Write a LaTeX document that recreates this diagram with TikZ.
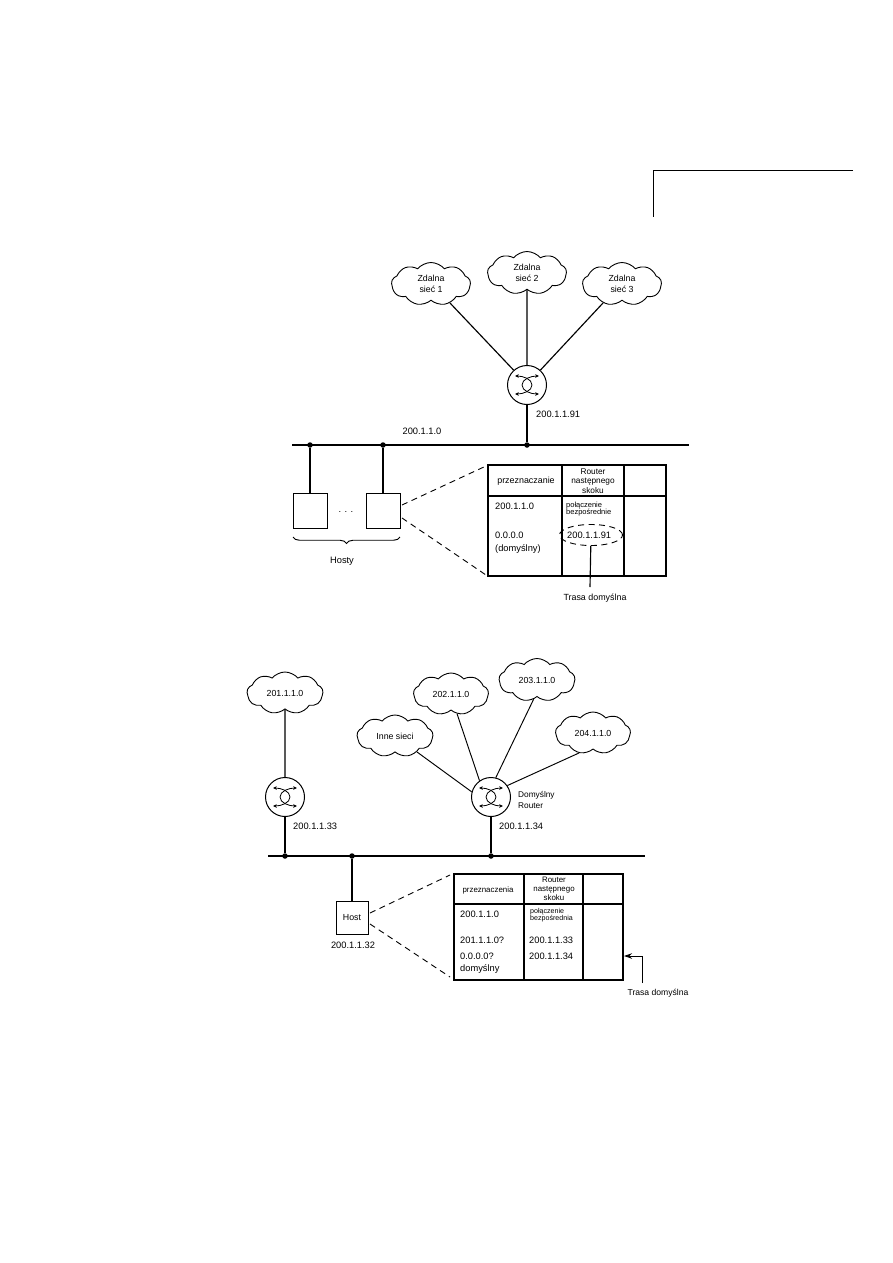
\documentclass[tikz,border=0pt]{standalone}
\usepackage{fontspec}
\setmainfont{Liberation Sans}
\usetikzlibrary{shapes.symbols,shapes.geometric,decorations.pathreplacing,arrows.meta}
\tikzset{
  x=1pt,y=-1pt,
  line/.style={line width=1.15pt,black},
  thinline/.style={line width=0.95pt,black},
  dashline/.style={line width=0.9pt,black,dash pattern=on 6pt off 4.5pt},
  netcloud/.style={cloud,cloud puffs=9,cloud puff arc=100,draw,line width=0.9pt,aspect=1.8,minimum width=79pt,minimum height=43pt,inner sep=0pt,align=center,font=\fontsize{8.8}{11}\selectfont},
  rtr/.style={circle,draw,line width=1pt,minimum size=39pt,inner sep=0pt},
  dot/.style={circle,fill=black,inner sep=0pt,minimum size=5.5pt},
  hostbox/.style={draw,line width=1pt,inner sep=0pt,minimum width=34pt,minimum height=35pt},
  lab/.style={inner sep=0pt,font=\fontsize{9.3}{10}\selectfont},
  llab/.style={lab,anchor=west},
  hdr/.style={inner sep=0pt,align=center,font=\fontsize{8.3}{9.3}\selectfont},
  tiny/.style={inner sep=0pt,align=left,anchor=west,font=\fontsize{7.5}{7.3}\selectfont},
  tab/.style={line width=1.05pt,black},
}
\newcommand{\rtricon}[1]{%
  \begin{scope}[shift={(#1)},line width=0.8pt,{Stealth[length=3.8pt,width=3.5pt]}-{Stealth[length=3.8pt,width=3.5pt]}]
    \draw (-12,-9) .. controls (-4,-9) and (5,-6) .. (5,0) .. controls (5,6) and (-4,9) .. (-12,9);
    \draw (12,-9) .. controls (4,-9) and (-5,-6) .. (-5,0) .. controls (-5,6) and (4,9) .. (12,9);
  \end{scope}}
\begin{document}
\begin{tikzpicture}
\useasboundingbox (0,0) rectangle (893,1263);
\fill[white] (0,0) rectangle (893,1263);
% corner mark
\coordinate (ma) at (853,170); \coordinate (mb) at (653,170); \coordinate (mc) at (653,217);
\draw[line width=1pt] (ma) -- (mb) -- (mc);

% ---- upper diagram
\node[netcloud] (z1) at (431,284) {Zdalna\\sieć 1};
\node[netcloud] (z2) at (527,273) {Zdalna\\sieć 2};
\node[netcloud] (z3) at (622,284) {Zdalna\\sieć 3};
\node[rtr] (r1) at (527,385) {};
\rtricon{r1}
\draw[line] (z1.-45) -- (r1.132);
\draw[line] (z2.south) -- (r1.north);
\draw[line] (z3.-135) -- (r1.48);
\coordinate (b1w) at (292,445); \coordinate (b1e) at (689,445);
\draw[line] (b1w) -- (b1e);
\node[dot] (d1) at (310,445) {};
\node[dot] (d2) at (383,445) {};
\node[dot] (d3) at (527,445) {};
\draw[line] (r1) -- (d3);
\node[hostbox] (h1) at (310,510.5) {};
\node[hostbox] (h2) at (383,510.5) {};
\draw[line] (d1) -- (h1);
\draw[line] (d2) -- (h2);
\node[lab] (dots) at (346,512) {. . .};
\coordinate (bra) at (293,537); \coordinate (brb) at (400,537);
\draw[thinline,decorate,decoration={brace,amplitude=6.5pt,mirror}] (bra) -- (brb);
\node[lab] (hosty) at (342,561) {Hosty};
\node[lab] (net1) at (422,431) {200.1.1.0};
\node[llab] (ip91) at (536,414) {200.1.1.91};
% table 1
\draw[tab] (488,465) rectangle (666,576);
\draw[tab] (488,496) -- (666,496);
\draw[tab] (562,465) -- (562,576);
\draw[tab] (624,465) -- (624,576);
\coordinate (t1a) at (486,466); \coordinate (t1b) at (486,575);
\coordinate (h2a) at (402,505); \coordinate (h2b) at (402,518);
\draw[dashline] (h2a) -- (t1a);
\draw[dashline] (h2b) -- (t1b);
\node[lab,font=\fontsize{8.9}{10}\selectfont] (t1h) at (526,481) {przeznaczanie};
\node[hdr] (t1r) at (593,481) {Router\\następnego\\skoku};
\node[llab] (t1n) at (495,506) {200.1.1.0};
\node[tiny] (t1p) at (566,509) {połączenie\\bezpośrednie};
\node[llab] (t1d) at (495,535) {0.0.0.0};
\node[llab] (t1e) at (495,549) {(domyślny)};
\node[llab] (t1i) at (567,535) {200.1.1.91};
\node[draw,ellipse,dashline,minimum width=63pt,minimum height=21pt,inner sep=0pt] (el) at (591,535) {};
\coordinate (tr1) at (590,587);
\draw[line] (el) -- (tr1);
\node[lab,font=\fontsize{8.9}{10}\selectfont] (trasa1) at (595,598) {Trasa domyślna};

% ---- lower diagram
\node[netcloud,minimum width=76pt,minimum height=42pt] (c201) at (285,693) {201.1.1.0};
\node[netcloud,minimum width=75pt,minimum height=42pt] (c202) at (451,694) {202.1.1.0};
\node[netcloud,minimum width=76pt,minimum height=43pt] (c203) at (537,680) {203.1.1.0};
\node[netcloud,minimum width=75pt,minimum height=42pt] (c204) at (593,733) {204.1.1.0};
\node[netcloud,minimum width=76pt,minimum height=42pt] (cin) at (395,736) {Inne sieci};
\node[rtr] (r2) at (285,797) {};
\node[rtr] (r3) at (491,797) {};
\rtricon{r2}
\rtricon{r3}
\draw[line] (c201.south) -- (r2.north);
\draw[thinline] (cin.-36) -- (r3.165);
\draw[thinline] (c202.-73) -- (r3.125);
\draw[thinline] (c203.-100) -- (r3.76);
\draw[thinline] (c204.-125) -- (r3.35);
\coordinate (b2w) at (268,856); \coordinate (b2e) at (645,856);
\draw[line] (b2w) -- (b2e);
\node[dot] (e1) at (285,856) {};
\node[dot] (e2) at (352,856) {};
\node[dot] (e3) at (491,856) {};
\draw[line] (r2) -- (e1);
\draw[line] (r3) -- (e3);
\node[hostbox,minimum width=32pt,minimum height=33pt,font=\fontsize{8.8}{10}\selectfont] (host) at (352,917.5) {Host};
\draw[line] (e2) -- (host);
\node[lab] (ip32) at (353,945) {200.1.1.32};
\node[llab] (ip33) at (293,826) {200.1.1.33};
\node[llab] (ip34) at (499,826) {200.1.1.34};
\node[llab,align=left,font=\fontsize{8.3}{11}\selectfont] (dr) at (518,799.5) {Domyślny\\Router};
% table 2
\draw[tab] (454,874) rectangle (623,980);
\draw[tab] (454,904) -- (623,904);
\draw[tab] (524,874) -- (524,980);
\draw[tab] (583,874) -- (583,980);
\coordinate (t2a) at (450,875); \coordinate (t2b) at (450,977);
\coordinate (ha) at (370,913); \coordinate (hb) at (370,924);
\draw[dashline] (ha) -- (t2a);
\draw[dashline] (hb) -- (t2b);
\node[lab,font=\fontsize{7.9}{9}\selectfont] (t2h) at (488,890) {przeznaczenia};
\node[hdr,font=\fontsize{7.9}{9}\selectfont] (t2r) at (554,889) {Router\\następnego\\skoku};
\node[llab] (t2n) at (460,914) {200.1.1.0};
\node[tiny,font=\fontsize{7.1}{7.3}\selectfont] (t2p) at (530,915) {połączenie\\bezpośrednia};
\node[llab] (t2a1) at (460,940) {201.1.1.0?};
\node[llab] (t2a2) at (529,940) {200.1.1.33};
\node[llab] (t2b1) at (460,956) {0.0.0.0?};
\node[llab] (t2b2) at (529,956) {200.1.1.34};
\node[llab] (t2c) at (460,969) {domyślny};
\coordinate (ar0) at (642,983); \coordinate (ar1) at (642,956); \coordinate (ar2) at (624,956);
\draw[thinline,-{Stealth[length=8pt,width=5.5pt]}] (ar0) -- (ar1) -- (ar2);
\node[lab,font=\fontsize{8.6}{10}\selectfont] (trasa2) at (658,993) {Trasa domyślna};
\end{tikzpicture}
\end{document}
